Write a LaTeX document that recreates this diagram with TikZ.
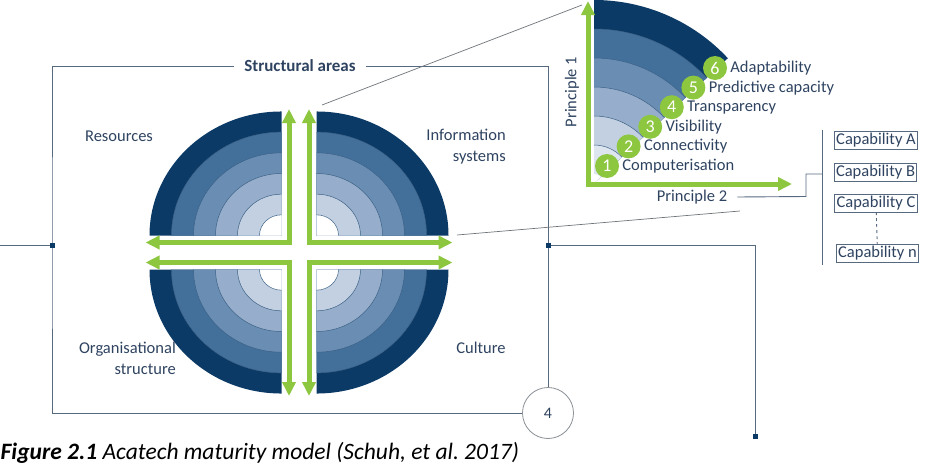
\documentclass[tikz,border=0pt]{standalone}
\usepackage{fontspec}
\setmainfont{Carlito}
\usepackage{tikz}
\usetikzlibrary{
  arrows.meta,
  positioning,
  calc
}
\definecolor{ringA}{HTML}{0B3A67}
\definecolor{ringB}{HTML}{42709B}
\definecolor{ringC}{HTML}{6A8DB4}
\definecolor{ringD}{HTML}{96AECB}
\definecolor{ringE}{HTML}{C3D0E2}
\definecolor{ringF}{HTML}{DDE5EF}
\definecolor{lime}{HTML}{8DC63F}
\definecolor{txtblue}{HTML}{2E4360}
\definecolor{framegray}{HTML}{56697F}
\definecolor{thingray}{HTML}{6E747A}

\begin{document}
\begin{tikzpicture}[x=1pt,y=-1pt,
  lbl/.style   ={text=txtblue,font=\fontsize{16.5}{21}\selectfont,inner sep=0pt},
  frm/.style   ={draw=framegray,line width=0.9pt},
  pointer/.style={draw=thingray,line width=0.7pt},
  ringline/.style={draw=ringA!80,line width=0.5pt},
  garr/.style  ={draw=lime,line width=5pt,
                 {Triangle[width=13pt,length=14pt]}-{Triangle[width=13pt,length=14pt]}},
  dot/.style   ={fill=ringA,inner sep=0pt,minimum size=5pt},
  badge/.style ={circle,fill=lime,text=white,inner sep=0pt,minimum size=24pt,
                 font=\fontsize{18}{18}\selectfont},
  capbox/.style={draw=framegray,line width=0.7pt,text=txtblue,inner sep=1.8pt,
                 font=\fontsize{16.5}{18}\selectfont},
]
\useasboundingbox (0,0) rectangle (934,466);

% structural areas disc
\coordinate (c) at (299,252.5);
\foreach \sx/\sy in {-1/-1,1/-1,-1/1,1/1}{
  \begin{scope}[shift={($(c)+(\sx*17.5,\sy*17)$)},xscale=\sx,yscale=\sy]
    \foreach \r/\col in {6/ringA,5/ringB,4/ringC,3/ringD,2/ringE,1/white}
      \fill[\col] (0,0) -- (\r*22,0)
        arc[start angle=0,end angle=90,x radius=\r*22,y radius=\r*20.67] -- cycle;
    \foreach \r in {1,...,5}
      \draw[ringline] (\r*22,0)
        arc[start angle=0,end angle=90,x radius=\r*22,y radius=\r*20.67];
  \end{scope}
  \draw[garr] ($(c)+(\sx*153.5,\sy*10)$) -- ($(c)+(\sx*10,\sy*10)$)
              -- ($(c)+(\sx*10,\sy*143.5)$);
}

\node[lbl] (res) at (119,136) {Resources};
\node[lbl,align=right,anchor=east] (info) at (506,147) {Information\\systems};
\node[lbl,align=right,anchor=east] (org) at (176,358.5)
  {Organisational\hspace{5pt}\\structure};
\node[lbl] (cult) at (481,348) {Culture};

% frame
\node[lbl,font=\bfseries\fontsize{17}{20}\selectfont,inner xsep=10pt] (sa) at (300,66)
  {Structural areas};
\node[circle,draw=thingray!80,line width=0.8pt,fill=white,minimum size=51pt,
      inner sep=0pt,text=txtblue,font=\fontsize{16}{16}\selectfont] (four) at (548,413) {4};
\coordinate (lj) at (52,245.7);
\coordinate (rj) at (548,245.7);
\coordinate (lstub) at (0,245.7);
\coordinate (bj) at (755,436.5);
\draw[frm] (sa.west) -| (lj) |- (four.west);
\draw[frm] (sa.east) -| (four.north);
\draw[frm] (lstub) -- (lj);
\draw[frm] (rj) -| (bj);
\node[dot] at (lj) {};
\node[dot] at (rj) {};
\node[dot] at (bj) {};

% pointers to the zoomed quadrant
\coordinate (z1a) at (322,105);
\coordinate (z1b) at (582,5);
\coordinate (z2a) at (457,235);
\coordinate (z2b) at (740,211);
\draw[pointer] (z1a) -- (z1b);
\draw[pointer] (z2a) -- (z2b);

% maturity stages
\begin{scope}[shift={(594,183)},yscale=-1]
  \foreach \k/\col in {6/ringA,5/ringB,4/ringC,3/ringD,2/ringE,1/ringF}
    \fill[\col] (0,0) -- (43:{9+29*\k})
      arc[start angle=43,end angle=90,radius={9+29*\k}] -- cycle;
  \fill[white] (0,0) -- (43:9) arc[start angle=43,end angle=90,radius=9] -- cycle;
  \foreach \k in {1,...,5}
    \draw[ringline] (43:{9+29*\k}) arc[start angle=43,end angle=90,radius={9+29*\k}];
\end{scope}
\foreach \i/\t in {1/Computerisation,2/Connectivity,3/Visibility,
                   4/Transparency,5/Predictive capacity,6/Adaptability}{
  \node[badge] (b\i) at ({585.4+21.6*\i},{185.6-19.6*\i}) {\i};
  \node[lbl,right=3pt of b\i] (s\i) {\t};
}
\coordinate (p1tip) at (588,1);
\coordinate (porg) at (588,184);
\coordinate (p2tip) at (792,184);
\draw[garr] (p1tip) -- (porg) -- (p2tip);
\node[lbl,rotate=90] (p1) at (572,92) {Principle 1};
\node[lbl] (p2) at (692,197) {Principle 2};

% capabilities
\coordinate (brt) at (822,130);
\coordinate (brb) at (822,265);
\coordinate (brk) at (822,174);
\coordinate (p2k) at (806,196.5);
\draw[frm] (brt) -- (brb);
\draw[frm] ([xshift=10pt]p2.east) -- (p2k) |- (brk);
\node[capbox] (capA) at (876,140.5) {Capability A};
\node[capbox] (capB) at (875.5,172) {Capability B};
\node[capbox] (capC) at (876,203) {Capability C};
\node[capbox] (capN) at (877.5,253) {Capability n};
\draw[frm,dashed] (capC) -- (capN);

% caption
\node[anchor=base west,inner sep=0pt,font=\fontsize{23.5}{28}\selectfont] (cap) at (0.5,459.5)
  {\textbf{\textit{Figure 2.1}} \textit{Acatech maturity model (Schuh, et al.\ 2017)}};
\end{tikzpicture}
\end{document}
